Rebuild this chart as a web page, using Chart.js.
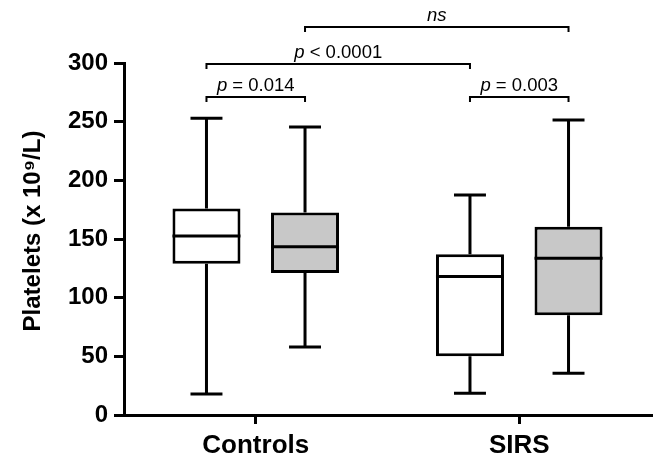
<!DOCTYPE html>
<html>
<head>
<meta charset="utf-8">
<script src="https://cdn.jsdelivr.net/npm/chart.js@4/dist/chart.umd.min.js"></script>
<style>
  html, body { margin: 0; padding: 0; background: #ffffff; }
  #wrap { width: 653px; height: 457px; position: relative; }
</style>
</head>
<body>
<div id="wrap"><canvas id="c"></canvas></div>
<script>
// ---- data ----
const categories = ['Controls', 'SIRS'];
const seriesNames = ['Group A', 'Group B'];

const whiteMin    = [18, 18.5];
const whiteQ1     = [129, 50];
const whiteMedian = [152.5, 118];
const whiteQ3     = [176, 137];
const whiteMax    = [253, 187.5];

const grayMin    = [58, 35.5];
const grayQ1     = [121, 85];
const grayMedian = [143.5, 133.5];
const grayQ3     = [172.5, 160.5];
const grayMax    = [245.5, 251.5];

const yTicks = [0, 50, 100, 150, 200, 250, 300];
const yTitle = 'Platelets (x 10⁹/L)';

// significance brackets: [dataset, category] from -> to, level in y units
const bracketLabelP    = ['p', 'p', 'p', ''];
const bracketLabelRest = [' = 0.014', ' = 0.003', ' < 0.0001', 'ns'];
const bracketFrom  = [[0, 0], [0, 1], [0, 0], [1, 0]];
const bracketTo    = [[1, 0], [1, 1], [0, 1], [1, 1]];
const bracketLevel = [271, 271, 299.5, 330.7];

const FONT = "'Liberation Sans', Arial, Helvetica, sans-serif";

const boxStats = [
  {min: whiteMin, q1: whiteQ1, med: whiteMedian, q3: whiteQ3, max: whiteMax},
  {min: grayMin,  q1: grayQ1,  med: grayMedian,  q3: grayQ3,  max: grayMax}
];

const boxPlugin = {
  id: 'boxWhiskers',
  afterDatasetsDraw(chart) {
    const ctx = chart.ctx;
    const ys = chart.scales.y;
    ctx.save();
    ctx.strokeStyle = '#000';
    ctx.lineWidth = 3;
    ctx.lineCap = 'butt';
    boxStats.forEach((st, di) => {
      const meta = chart.getDatasetMeta(di);
      meta.data.forEach((el, j) => {
        const x = el.x, w = el.width;
        const yMin = ys.getPixelForValue(st.min[j]);
        const yMax = ys.getPixelForValue(st.max[j]);
        const yQ1 = ys.getPixelForValue(st.q1[j]);
        const yQ3 = ys.getPixelForValue(st.q3[j]);
        const yMed = ys.getPixelForValue(st.med[j]);
        const cap = w * 0.47;
        ctx.beginPath();
        ctx.moveTo(x, yQ3); ctx.lineTo(x, yMax);
        ctx.moveTo(x, yQ1); ctx.lineTo(x, yMin);
        ctx.moveTo(x - cap / 2, yMax); ctx.lineTo(x + cap / 2, yMax);
        ctx.moveTo(x - cap / 2, yMin); ctx.lineTo(x + cap / 2, yMin);
        ctx.moveTo(x - w / 2, yMed); ctx.lineTo(x + w / 2, yMed);
        ctx.stroke();
      });
    });
    ctx.restore();
  },
  afterDraw(chart) {
    const ctx = chart.ctx;
    const ys = chart.scales.y;
    ctx.save();
    ctx.strokeStyle = '#000';
    ctx.fillStyle = '#000';
    ctx.lineWidth = 2;
    bracketLevel.forEach((lv, k) => {
      const a = chart.getDatasetMeta(bracketFrom[k][0]).data[bracketFrom[k][1]];
      const b = chart.getDatasetMeta(bracketTo[k][0]).data[bracketTo[k][1]];
      const y = Math.round(ys.getPixelForValue(lv));
      const x1 = a.x, x2 = b.x;
      ctx.beginPath();
      ctx.moveTo(x1, y + 5); ctx.lineTo(x1, y); ctx.lineTo(x2, y); ctx.lineTo(x2, y + 5);
      ctx.stroke();
      const pTxt = bracketLabelP[k];
      const rest = bracketLabelRest[k];
      const italicFont = 'italic 18.5px ' + FONT;
      const normalFont = '18.5px ' + FONT;
      ctx.font = italicFont;
      const wP = pTxt ? ctx.measureText(pTxt).width : 0;
      ctx.font = rest === 'ns' ? italicFont : normalFont;
      const wR = ctx.measureText(rest).width;
      const cx = (x1 + x2) / 2;
      const sx = cx - (wP + wR) / 2;
      ctx.textBaseline = 'alphabetic';
      ctx.textAlign = 'left';
      if (pTxt) { ctx.font = italicFont; ctx.fillText(pTxt, sx, y - 6); }
      ctx.font = rest === 'ns' ? italicFont : normalFont;
      ctx.fillText(rest, sx + wP, y - 6);
    });
    // y-axis title
    const area = chart.chartArea;
    ctx.translate(33, (area.top + area.bottom) / 2 - 8);
    ctx.rotate(-Math.PI / 2);
    ctx.font = 'bold 24px ' + FONT;
    ctx.textAlign = 'center';
    ctx.textBaseline = 'middle';
    ctx.fillText(yTitle, 0, 0);
    ctx.restore();
  }
};

new Chart(document.getElementById('c'), {
  type: 'bar',
  data: {
    labels: categories,
    datasets: [
      {
        label: seriesNames[0],
        data: categories.map((_, i) => [whiteQ1[i], whiteQ3[i]]),
        backgroundColor: '#ffffff',
        borderColor: '#000000',
        borderWidth: 3,
        borderSkipped: false,
        categoryPercentage: 0.748,
        barPercentage: 0.69
      },
      {
        label: seriesNames[1],
        data: categories.map((_, i) => [grayQ1[i], grayQ3[i]]),
        backgroundColor: '#c8c8c8',
        borderColor: '#000000',
        borderWidth: 3,
        borderSkipped: false,
        categoryPercentage: 0.748,
        barPercentage: 0.69
      }
    ]
  },
  options: {
    responsive: true,
    maintainAspectRatio: false,
    animation: false,
    layout: { padding: { top: 63, right: 2, left: 0, bottom: 0 } },
    plugins: { legend: { display: false }, tooltip: { enabled: false } },
    scales: {
      x: {
        grid: { display: true, drawOnChartArea: false, drawTicks: true, offset: false, tickLength: 9, color: '#000', lineWidth: 3 },
        border: { display: true, color: '#000', width: 3 },
        ticks: { color: '#000', font: { family: FONT, size: 26, weight: 'bold' }, padding: 6 },
        afterFit(scale) { scale.height = 42; }
      },
      y: {
        min: 0, max: 300,
        afterBuildTicks(scale) { scale.ticks = yTicks.map(v => ({ value: v })); },
        grid: { display: true, drawOnChartArea: false, drawTicks: true, tickLength: 10, color: '#000', lineWidth: 3 },
        border: { display: true, color: '#000', width: 3 },
        ticks: { color: '#000', font: { family: FONT, size: 24, weight: 'bold' }, padding: 6 },
        title: { display: false, text: yTitle },
        afterFit(scale) { scale.width = 124; }
      }
    }
  },
  plugins: [boxPlugin]
});
</script>
</body>
</html>
